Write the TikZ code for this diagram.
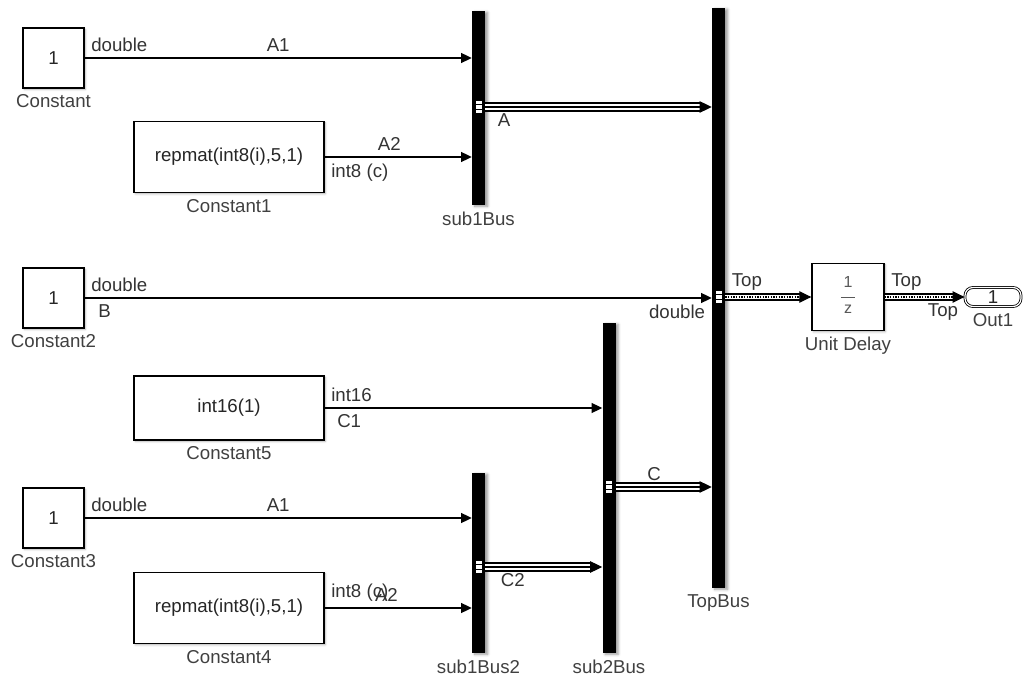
\documentclass[tikz,border=0pt]{standalone}
\usepackage{fontspec}
\setmainfont{Liberation Sans}
\usetikzlibrary{arrows.meta, shadows.blur}
\newcommand{\pxu}{0.75pt}

\tikzset{
    blockbox/.style={draw, line width=1pt, fill=white, inner sep=0pt, text=black!85,
        blur shadow={shadow xshift=1pt, shadow yshift=-1pt, shadow blur radius=1.5pt, shadow opacity=30}},
    busbar/.style={fill=black, minimum width=13*\pxu, inner sep=0pt,
        blur shadow={shadow xshift=2pt, shadow yshift=-1pt, shadow blur radius=2pt, shadow opacity=40}},
    portmark/.style={draw=black, line width=0.4pt, fill=white, minimum width=7*\pxu, minimum height=13*\pxu, inner sep=0pt,
        path picture={
            \draw[line width=0.7pt] ([yshift=1.6pt]path picture bounding box.west) -- ([yshift=1.6pt]path picture bounding box.east);
            \draw[line width=0.7pt] ([yshift=-1.6pt]path picture bounding box.west) -- ([yshift=-1.6pt]path picture bounding box.east);
        }},
    outport/.style={draw, double, double distance=0.9pt, line width=0.6pt, fill=white, rounded corners=8*\pxu,
        minimum width=56*\pxu, minimum height=19*\pxu, inner sep=0pt, text=black!85},
    sig/.style={-{Triangle[length=8pt,width=7.5pt]}, line width=0.9pt},
    busline/.style={-{Triangle[length=9pt,width=8.5pt]}, line width=0.9pt,
        preaction={draw, -, line width=7pt, shorten >=8pt},
        preaction={draw, -, white, line width=5pt, shorten >=8pt}},
    nestbus/.style={-{Triangle[length=9pt,width=8.5pt]}, line width=0.9pt, dash pattern=on 1pt off 1pt,
        preaction={draw, -, solid, line width=5.5pt, shorten >=8pt},
        preaction={draw, -, solid, white, line width=3.7pt, shorten >=8pt}},
    sigtext/.style={text=black!80, inner sep=4.5pt},
    namelbl/.style={text=black!75, inner sep=4.5pt},
}

\begin{document}
\begin{tikzpicture}[x=\pxu, y=-\pxu, font=\fontsize{14}{16}\selectfont]
    \useasboundingbox (0,0) rectangle (1023,680);

    % Draw blocks
    \node[blockbox, minimum width=61*\pxu, minimum height=60*\pxu] (const) at (53.5,58) {1};
    \node[blockbox, minimum width=190*\pxu, minimum height=71*\pxu] (const1) at (229,157) {repmat(int8(i),5,1)};
    \node[blockbox, minimum width=61*\pxu, minimum height=60*\pxu] (const2) at (53.5,298) {1};
    \node[blockbox, minimum width=190*\pxu, minimum height=64*\pxu] (const5) at (229,408) {int16(1)};
    \node[blockbox, minimum width=61*\pxu, minimum height=60*\pxu] (const3) at (53.5,518) {1};
    \node[blockbox, minimum width=190*\pxu, minimum height=71*\pxu] (const4) at (229,608) {repmat(int8(i),5,1)};
    \node[blockbox, minimum width=72*\pxu, minimum height=67*\pxu, text=black!65,
        font=\fontsize{12}{13}\selectfont] (delay) at (848,297)
        {\begin{tabular}{@{\,}c@{\,}}1\\[3pt]\hline\rule{0pt}{12pt}z\end{tabular}};
    \node[outport] (out1) at (993,297) {1};

    % Draw buses
    \node[busbar, minimum height=194*\pxu] (sub1bus) at (478.5,108) {};
    \node[busbar, minimum height=180*\pxu] (sub1bus2) at (478.5,563) {};
    \node[busbar, minimum height=330*\pxu] (sub2bus) at (609,488) {};
    \node[busbar, minimum height=580*\pxu] (topbus) at (718.5,298) {};

    % Bus output ports
    \node[portmark] (p1) at (479,107) {};
    \node[portmark] (p2) at (479,567) {};
    \node[portmark] (p3) at (609,487) {};
    \node[portmark] (p4) at (719,297) {};

    % Draw connections
    \draw[sig] (const.east) -- (const.east -| sub1bus.west)
        node[pos=0, above right, sigtext] {double} node[midway, above, sigtext] {A1};
    \draw[sig] (const1.east) -- (const1.east -| sub1bus.west)
        node[pos=0, below right, sigtext] {int8 (c)} node[pos=0.44, above, sigtext] {A2};
    \draw[sig] (const2.east) -- (const2.east -| topbus.west)
        node[pos=0, above right, sigtext] {double} node[pos=0, below right, sigtext, xshift=7*\pxu] {B}
        node[pos=1, below left, sigtext] {double};
    \draw[sig] (const5.east) -- (const5.east -| sub2bus.west)
        node[pos=0, above right, sigtext] {int16} node[pos=0, below right, sigtext, xshift=6*\pxu] {C1};
    \draw[sig] (const3.east) -- (const3.east -| sub1bus2.west)
        node[pos=0, above right, sigtext] {double} node[midway, above, sigtext] {A1};
    \draw[sig] (const4.east) -- (const4.east -| sub1bus2.west)
        node[pos=0, above right, sigtext] {int8 (c)} node[pos=0.42, above, sigtext] {A2};

    \draw[busline] (p1 -| sub1bus.east) -- (p1 -| topbus.west)
        node[pos=0, below right, sigtext, xshift=6*\pxu] {A};
    \draw[busline] (p2 -| sub1bus2.east) -- (p2 -| sub2bus.west)
        node[pos=0, below right, sigtext, xshift=9*\pxu] {C2};
    \draw[busline] (p3 -| sub2bus.east) -- (p3 -| topbus.west)
        node[pos=0.4, above, sigtext] {C};
    \draw[nestbus] (p4 -| topbus.east) -- (p4 -| delay.west)
        node[pos=0, above right, sigtext] {Top};
    \draw[nestbus] (delay.east) -- (out1.west)
        node[pos=0, above right, sigtext] {Top} node[pos=1, below left, sigtext] {Top};

    % Labels
    \node[below, namelbl] at (const.south) {Constant};
    \node[below, namelbl] at (const1.south) {Constant1};
    \node[below, namelbl] at (const2.south) {Constant2};
    \node[below, namelbl] at (const5.south) {Constant5};
    \node[below, namelbl] at (const3.south) {Constant3};
    \node[below, namelbl] at (const4.south) {Constant4};
    \node[below, namelbl] at (delay.south) {Unit Delay};
    \node[below, namelbl] at (out1.south) {Out1};
    \node[below, namelbl] at (sub1bus.south) {sub1Bus};
    \node[below, namelbl] at (sub1bus2.south) {sub1Bus2};
    \node[below, namelbl] at (sub2bus.south) {sub2Bus};
    \node[below, namelbl] at (topbus.south) {TopBus};
\end{tikzpicture}
\end{document}
